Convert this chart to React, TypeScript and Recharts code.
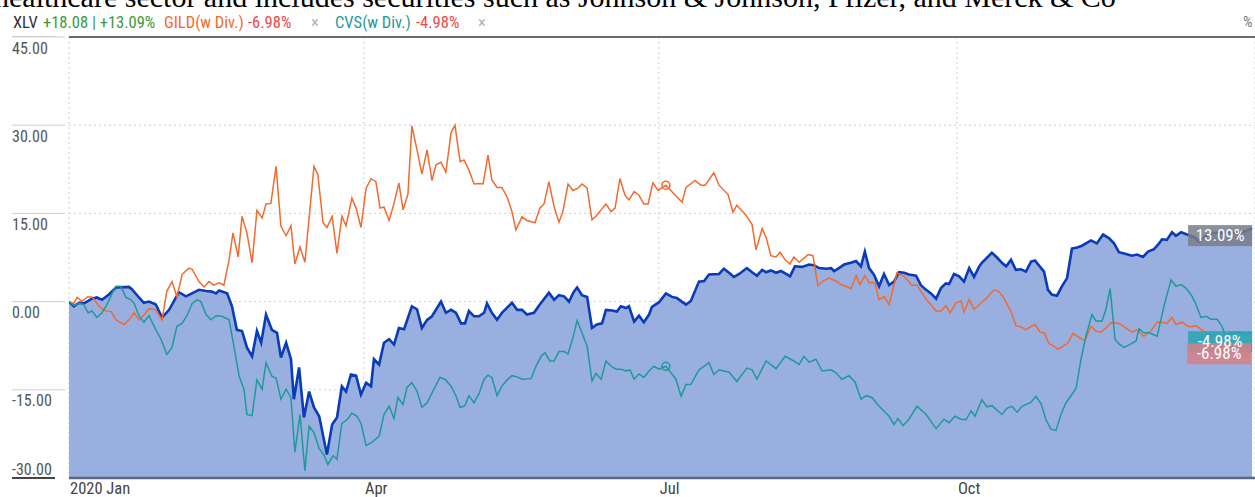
import { ComposedChart, Area, Line, XAxis, YAxis, CartesianGrid, ReferenceDot, ReferenceLine } from 'recharts';

const NARROW = "'Liberation Sans Narrow', 'Roboto Condensed', 'Arial Narrow', Roboto, sans-serif";

// x = day of 2020 (0 = Jan 1), y = % change
const monthTicks = [0, 91, 182, 274];
const monthLabels = ['2020 Jan', 'Apr', 'Jul', 'Oct'];
const pctTicks = [-30, -15, 0, 15, 30, 45];

const xlvPoints: [number, number][] = [
  [0,0],[1.5,-0.8],[3.1,-0.2],[4.6,-0.3],[7.1,0.5],[8.6,0.7],[10.2,0.3],[12.3,1.2],[14.5,2.4],[18.5,2.5],[19.4,2.1],[21.6,0.7],[23.1,-0.2],[24.7,0],[26.8,-0.5],[28.7,-2.7],[30.9,-1.4],[33.9,1.6],[36.1,0.9],[40.1,2.0],[42.3,1.8],[44.1,1.7],[45.4,1.4],[46.3,1.9],[48.8,1.4],[50.3,-0.8],[51.8,-4.8],[53.4,-5.0],[54.9,-7.8],[56.5,-9.3],[58.0,-5.0],[59.3,-7.0],[60.8,-2.2],[62.6,-4.8],[64.2,-5.3],[65.4,-9.5],[67.0,-7.0],[68.5,-9.8],[69.4,-16.6],[71.0,-11.2],[72.5,-19.7],[74.1,-15.3],[75.6,-18.0],[77.2,-19.5],[79.6,-26.0],[81.2,-20.9],[82.7,-19.7],[84.2,-14.4],[85.5,-15.3],[87.0,-12.4],[88.6,-12.6],[90.1,-15.8],[91.7,-13.8],[93.2,-14.4],[94.1,-9.8],[95.7,-10.7],[97.2,-7.0],[98.8,-6.4],[100.3,-7.3],[101.8,-4.5],[103.4,-4.7],[105.8,-0.8],[107.4,-1.3],[108.9,-4.5],[110.5,-3.1],[112.0,-2.5],[114.8,0],[116.3,-1.9],[117.9,-1.4],[119.4,-1.9],[121.0,-3.7],[122.2,-3.7],[123.4,-1.6],[125.0,-2.5],[126.5,-2.5],[128.1,-1.9],[129.0,-0.3],[130.5,-1.9],[132.1,-3.1],[133.6,-1.9],[136.7,-0.2],[138.3,-1.4],[139.8,-1.4],[141.3,-2.2],[143.5,-1.9],[145.0,-0.7],[148.1,1.5],[149.7,0.3],[151.2,1.1],[152.8,0.9],[154.3,0],[155.8,1.7],[156.8,2.4],[158.3,1.1],[159.9,0.8],[161.4,-4.5],[162.9,-3.9],[164.5,-3.7],[165.7,-1.4],[167.6,-1.5],[169.1,-1.7],[170.3,-0.8],[171.9,-1.1],[172.8,-0.8],[174.4,-3.4],[175.9,-2.4],[177.4,-3.5],[179.0,-2.2],[179.9,-0.9],[182.1,-0.1],[184.2,1.4],[186.1,0.8],[187.6,0.6],[190.4,-0.5],[191.9,0.1],[194.4,3.4],[196.0,3.5],[197.5,4.6],[200.6,4.7],[202.1,5.6],[203.7,4.9],[205.2,4.2],[206.8,4.7],[209.2,5.7],[210.8,5.0],[212.3,4.4],[213.9,5.4],[215.1,5.0],[216.6,5.3],[218.2,4.9],[219.7,5.2],[221.3,4.7],[222.5,4.3],[224.0,6.0],[226.2,5.9],[228.4,6.3],[229.9,6.2],[231.5,5.7],[233.6,5.6],[235.2,5.7],[236.1,5.2],[237.6,5.7],[239.2,6.3],[241.3,6.6],[242.9,6.9],[244.4,6.0],[245.6,8.5],[246.9,5.7],[248.4,4.6],[250.0,2.6],[251.5,4.7],[253.1,2.8],[254.6,3.4],[256.1,5.0],[257.7,4.9],[259.2,4.6],[261.4,4.4],[262.9,2.8],[264.5,2.0],[266.0,1.4],[267.6,0.5],[269.1,2.3],[270.6,3.1],[271.6,3.0],[273.1,4.7],[274.7,4.3],[276.2,3.4],[277.8,5.7],[279.3,4.2],[280.9,6.0],[281.7,6.6],[284.8,8.3],[286.4,7.5],[287.9,6.6],[289.2,6.0],[290.7,7.1],[292.2,5.4],[293.8,5.5],[295.3,5.1],[296.9,6.8],[298.1,7.0],[300.0,5.7],[300.9,5.1],[302.1,2.0],[303.3,1.2],[304.9,1.0],[306.4,2.6],[308.0,4.0],[309.5,9.0],[311.1,9.2],[312.6,9.5],[315.4,10.4],[317.2,9.9],[319.1,11.4],[320.9,10.8],[322.5,9.9],[324.0,8.4],[326.2,8.1],[328.0,7.8],[329.6,8.0],[331.4,7.6],[333.0,8.5],[334.8,8.9],[336.4,9.9],[337.3,10.6],[338.8,10.5],[340.4,11.8],[341.6,11.2],[343.2,11.8],[345.0,11.4],[347.2,11.0],[348.7,10.3],[350.9,11.2],[352.7,11.7],[355.8,11.7],[358.9,11.7],[361.1,11.7],[363.2,12.0],[365.1,12.5],
];

const gildPoints: [number, number][] = [
  [0,0],[1.5,-0.3],[2.5,0.7],[4.0,0],[5.6,0.8],[7.1,0.8],[9.3,-0.8],[10.8,-1.5],[13.0,-1.7],[14.5,-3.1],[17.0,-3.9],[18.5,-3.1],[20.1,-1.9],[21.6,-3.1],[23.8,-1.9],[24.7,-1.2],[26.8,-1.4],[28.7,-3.1],[30.2,1.8],[31.8,3.4],[33.3,0.8],[34.9,4.6],[37.0,5.7],[38.0,5.5],[40.1,3.4],[41.7,2.5],[43.2,3.4],[44.7,2.8],[46.3,3.2],[47.8,2.8],[49.4,7.1],[50.6,11.7],[52.2,7.6],[53.4,14.5],[54.9,11.7],[56.5,6.6],[58.0,15.5],[59.6,14.2],[60.8,16.6],[62.3,16.7],[63.9,23.0],[65.4,12.8],[67.0,11.2],[68.5,12.9],[69.7,6.4],[71.3,9.3],[72.8,6.7],[75.6,23.0],[76.8,21.6],[78.4,13.4],[79.6,12.6],[81.2,14.5],[82.7,8.2],[84.2,14.5],[85.5,12.9],[87.3,17.6],[88.6,15.9],[90.1,12.6],[91.7,19.3],[93.2,20.9],[94.7,20.4],[96.0,15.9],[97.2,16.1],[98.8,13.8],[100.3,16.7],[101.8,20.2],[103.1,15.6],[104.6,18.3],[105.8,29.9],[107.4,25.8],[108.9,21.7],[110.5,25.8],[112.0,20.6],[113.3,23.3],[114.8,23.7],[116.3,22.0],[117.9,28.7],[119.1,30.0],[120.7,23.8],[121.9,24.1],[123.4,22.4],[125.0,20.0],[126.5,20.1],[127.8,20.0],[129.3,24.9],[130.5,20.7],[132.1,19.4],[133.6,19.4],[135.2,17.8],[136.7,15.3],[137.9,12.2],[139.8,14.4],[141.3,13.8],[143.8,13.4],[145.3,15.9],[146.6,16.6],[148.1,20.4],[149.7,16.1],[151.2,13.5],[152.4,15.3],[154.0,20.0],[155.5,18.9],[157.1,19.3],[158.3,20.0],[159.9,19.3],[161.4,13.9],[162.6,14.5],[164.2,15.6],[165.7,16.6],[167.3,15.3],[168.5,15.9],[170.0,20.9],[171.6,18.1],[172.8,17.3],[174.4,18.7],[175.9,18.1],[177.4,16.6],[178.7,16.6],[180.2,20.2],[181.8,18.9],[184.2,19.8],[186.1,18.7],[189.2,16.9],[190.4,19.4],[193.2,20.6],[195.0,19.8],[196.3,19.8],[199.0,21.9],[200.6,19.8],[203.4,18.2],[204.9,15.2],[206.1,16.4],[208.9,14.7],[210.8,13.1],[212.0,8.8],[213.9,12.4],[215.1,11.0],[216.6,7.8],[218.2,7.6],[219.4,8.4],[221.0,7.1],[222.5,6.4],[223.7,7.6],[225.3,6.7],[228.1,8.0],[229.6,7.8],[231.1,2.7],[232.7,3.5],[234.5,4.0],[236.7,3.5],[238.2,2.9],[239.8,2.6],[241.3,2.2],[242.9,4.4],[244.1,2.9],[245.6,4.4],[246.9,3.2],[248.7,3.2],[250.0,0.3],[251.5,0.9],[253.1,-0.5],[255.5,4.9],[257.7,4.3],[260.1,2.8],[261.7,2.8],[264.5,0.4],[267.6,-1.6],[269.1,-1.6],[270.6,-0.7],[271.9,-1.9],[273.7,-0.2],[275.3,0.1],[276.2,-1.8],[277.8,0.4],[279.3,-1.3],[280.9,-0.5],[283.0,0.5],[285.5,2.0],[287.0,1.7],[288.5,0.6],[290.7,-1.7],[292.2,-4.1],[293.8,-4.3],[295.3,-4.8],[296.9,-4.2],[298.1,-3.9],[299.7,-5.2],[300.9,-5.3],[302.4,-7.1],[304.0,-7.6],[305.2,-8.1],[307.1,-7.5],[308.3,-7.0],[309.8,-5.4],[311.4,-6.0],[313.5,-6.7],[315.4,-4.2],[316.9,-5.0],[318.5,-5.2],[320.0,-4.5],[321.6,-3.6],[324.0,-3.7],[326.2,-4.5],[328.0,-5.2],[329.6,-4.8],[331.7,-5.9],[333.9,-5.0],[335.8,-3.5],[337.3,-3.5],[338.8,-3.7],[340.4,-2.7],[341.6,-3.9],[343.5,-3.5],[345.6,-4.3],[347.8,-4.1],[349.6,-4.8],[351.8,-5.6],[354.0,-5.9],[355.8,-6.5],[358.6,-7.6],[361.1,-9.0],[363.2,-9.3],[364.8,-7.6],
];

const cvsPoints: [number, number][] = [
  [0,0],[1.5,-0.7],[3.1,-0.3],[4.6,-0.5],[5.9,-1.9],[7.1,-1.6],[8.6,-2.7],[10.2,-1.9],[11.7,-0.5],[13.3,1.4],[14.5,2.6],[16.0,2.6],[17.6,0.7],[19.1,0.3],[20.1,-0.3],[21.6,-2.4],[23.1,-3.5],[24.7,-2.4],[26.8,-4.8],[28.4,-6.4],[30.2,-9.0],[31.8,-7.8],[33.3,-4.2],[34.9,-3.7],[36.4,-2.4],[38.0,-0.3],[39.5,0.3],[40.7,0],[42.3,-2.2],[43.8,-3.1],[45.4,-2.4],[47.2,-2.5],[49.4,-3.1],[50.9,-7.6],[52.5,-12.7],[54.0,-14.9],[54.9,-19.2],[56.5,-19.4],[58.0,-13.3],[59.6,-14.9],[60.8,-10.4],[62.6,-12.7],[63.9,-13.0],[65.4,-16.6],[67.0,-14.9],[68.5,-16.3],[69.7,-25.6],[71.3,-19.2],[72.8,-28.8],[74.1,-21.2],[75.6,-22.3],[77.2,-25.0],[78.7,-26.1],[79.9,-27.7],[81.5,-26.2],[82.7,-26.8],[84.2,-20.7],[85.8,-20.1],[87.3,-19.0],[88.9,-19.5],[90.1,-20.7],[91.7,-24.5],[93.5,-23.9],[95.7,-22.9],[97.2,-19.2],[98.8,-17.8],[100.3,-19.9],[101.5,-16.3],[103.1,-17.5],[104.3,-14.6],[105.8,-13.8],[107.4,-15.2],[108.9,-18.0],[110.5,-17.2],[112.6,-14.9],[114.5,-12.9],[116.0,-13.2],[117.9,-14.4],[119.4,-16.0],[120.7,-18.0],[122.2,-17.7],[123.4,-16.0],[125.0,-17.2],[126.5,-15.7],[128.1,-13.2],[129.3,-12.5],[130.5,-12.9],[132.1,-16.0],[133.6,-14.4],[135.2,-13.3],[136.7,-12.6],[138.3,-12.8],[139.8,-13.2],[142.6,-13.1],[144.1,-11.0],[145.7,-9.3],[146.9,-8.7],[148.4,-10.1],[149.7,-10.1],[151.2,-8.5],[152.8,-8.5],[154.0,-8.9],[155.5,-6.2],[156.8,-3.2],[158.3,-5.3],[159.9,-7.6],[161.4,-13.5],[162.6,-12.2],[164.2,-13.2],[165.7,-10.1],[167.3,-11.0],[168.8,-11.5],[170.3,-11.5],[171.9,-11.8],[173.1,-11.6],[174.4,-13.2],[175.9,-12.3],[177.4,-12.9],[179.0,-11.8],[180.5,-11.0],[182.1,-11.5],[184.2,-11.0],[187.3,-13.2],[188.9,-16.1],[190.4,-14.1],[191.9,-14.1],[194.4,-11.6],[197.5,-10.4],[199.0,-12.4],[200.6,-11.6],[203.7,-12.0],[206.1,-13.6],[209.2,-11.3],[210.8,-11.6],[212.3,-13.2],[215.1,-10.1],[218.2,-11.4],[221.0,-9.3],[223.7,-10.1],[225.3,-10.7],[226.8,-9.3],[228.4,-10.3],[230.5,-9.8],[232.4,-11.8],[235.2,-11.6],[236.7,-12.1],[238.5,-13.2],[240.7,-12.6],[242.6,-13.7],[244.4,-16.6],[246.0,-16.0],[247.8,-16.3],[250.0,-17.8],[253.1,-19.5],[254.6,-20.9],[255.8,-19.9],[257.4,-21.1],[259.2,-20.0],[261.7,-17.8],[264.5,-19.2],[267.6,-21.6],[270.0,-20.0],[271.6,-20.6],[273.4,-19.5],[275.3,-20.0],[276.8,-20.1],[278.4,-18.6],[279.6,-19.5],[281.7,-16.7],[283.3,-17.9],[284.8,-17.7],[287.9,-19.2],[289.5,-18.1],[291.0,-17.8],[292.6,-18.8],[294.1,-17.8],[296.9,-17.1],[298.4,-16.1],[300.0,-17.4],[301.5,-20.1],[303.0,-21.7],[304.6,-21.9],[306.1,-19.2],[307.7,-17.2],[309.5,-15.8],[310.8,-14.7],[312.3,-9.8],[313.8,-5.9],[315.7,-2.2],[316.9,-3.3],[318.8,-3.3],[320.0,-1.3],[321.3,2.2],[322.8,-6.4],[324.0,-7.2],[325.6,-7.8],[327.7,-7.2],[329.3,-6.7],[330.2,-4.6],[331.7,-5.3],[333.3,-5.3],[335.8,-5.9],[337.9,-0.8],[340.1,3.7],[341.6,2.6],[343.2,2.9],[344.7,2.3],[346.6,0.9],[347.8,-0.5],[349.3,-2.7],[350.9,-2.5],[352.4,-3.0],[354.3,-3.0],[355.8,-4.2],[357.0,-5.9],[358.6,-5.3],[361.1,-5.2],[363.2,-5.6],[365.1,-5.2],
];

const markerDay = 184.2;
const legendItems = [
  { text: 'XLV', color: '#333333', left: 13 },
  { text: '+18.08 | +13.09%', color: '#3b9a3b', left: 43 },
  { text: 'GILD(w Div.)', color: '#f26a2e', left: 164 },
  { text: '-6.98%', color: '#f0474a', left: 248 },
  { text: '\u00d7', color: '#b0b0b0', left: 311 },
  { text: 'CVS(w Div.)', color: '#1f9a9a', left: 335 },
  { text: '-4.98%', color: '#f0474a', left: 416 },
  { text: '\u00d7', color: '#b0b0b0', left: 478 },
];

const rows = (pts: [number, number][]) => pts.map(([day, pct]) => ({ day, pct }));
const xlvData = rows(xlvPoints);
const gildData = rows(gildPoints);
const cvsData = rows(cvsPoints);
const last = (pts: [number, number][]) => pts[pts.length - 1];

function YTick({ y, payload }: any) {
  const bottom = payload.value === -30;
  return (
    <g>
      <line x1={12} x2={bottom ? 55 : 65} y1={y} y2={y} stroke={bottom ? '#444' : '#cfcfcf'} strokeWidth={bottom ? 2 : 1} />
      <text x={12} y={bottom ? y - 3 : y + 16.5} fill="#555" fontSize={16} fontFamily={NARROW}>
        {payload.value.toFixed(2)}
      </text>
    </g>
  );
}

function XTick({ x, payload, index }: any) {
  return (
    <text x={x + 1} y={494} fill="#444" fontSize={16.5} fontFamily={NARROW}>
      {monthLabels[index] ?? payload.value}
    </text>
  );
}

function tag(text: string, fill: string, box: boolean, label: boolean, dy: number) {
  return (p: any) => {
    const right = p.cx;
    const top = p.cy + dy;
    return (
      <g>
        {box && <rect x={right - 64} y={top} width={64} height={21} fill={fill} />}
        {label && (
          <text x={right - 32} y={top + 16} textAnchor="middle" fill="#fff" fontSize={17} fontFamily={NARROW}>
            {text}
          </text>
        )}
      </g>
    );
  };
}

export default function App() {
  const [xd, xv] = last(xlvPoints);
  const [gd, gv] = last(gildPoints);
  const [cd, cv] = last(cvsPoints);
  const gMark = gildPoints.find((p) => p[0] === markerDay)!;
  const cMark = cvsPoints.find((p) => p[0] === markerDay)!;
  return (
    <div style={{ position: 'relative', width: 1255, height: 497, overflow: 'hidden', background: '#fff' }}>
      <style>{'body{margin:0}'}</style>
      <div
        style={{
          position: 'absolute', top: -18, left: -6, whiteSpace: 'nowrap',
          fontFamily: "'Liberation Serif', 'Times New Roman', serif", fontSize: 30, lineHeight: '30px', color: '#000',
        }}
      >
        healthcare sector and includes securities such as Johnson &amp; Johnson, Pfizer, and Merck &amp; Co
      </div>
      {legendItems.map((it) => (
        <span
          key={it.left}
          style={{ position: 'absolute', left: it.left, top: 13, fontFamily: NARROW, fontSize: 16.5, color: it.color, whiteSpace: 'nowrap' }}
        >
          {it.text}
        </span>
      ))}
      <span style={{ position: 'absolute', left: 1243, top: 13, fontFamily: NARROW, fontSize: 15, color: '#777' }}>%</span>
      <div style={{ position: 'absolute', left: 12, top: 36, width: 43, height: 1, background: '#cfcfcf' }} />
      <ComposedChart width={1255} height={497} margin={{ top: 37, right: 0, bottom: 0, left: 0 }}>
        <CartesianGrid stroke="#cfcfcf" strokeDasharray="2 3" />
        <XAxis
          type="number"
          dataKey="day"
          domain={[0, 366]}
          ticks={monthTicks}
          height={19}
          axisLine={false}
          tickLine={false}
          tick={<XTick />}
          allowDataOverflow
        />
        <YAxis
          type="number"
          domain={[-30, 45]}
          ticks={pctTicks}
          width={69}
          axisLine={false}
          tickLine={false}
          tick={<YTick />}
          allowDataOverflow
        />
        <Area
          data={xlvData}
          dataKey="pct"
          type="linear"
          baseValue={-30}
          stroke="#0a3cb8"
          strokeWidth={2.6}
          fill="#98afe0"
          fillOpacity={1}
          dot={false}
          activeDot={false}
          isAnimationActive={false}
        />
        <Line data={gildData} dataKey="pct" type="linear" stroke="#f26a2e" strokeWidth={1.5} dot={false} activeDot={false} isAnimationActive={false} />
        <Line data={cvsData} dataKey="pct" type="linear" stroke="#1f9a9a" strokeWidth={1.5} dot={false} activeDot={false} isAnimationActive={false} />
        <ReferenceLine y={45} stroke="#6b6b6b" strokeWidth={2} />
        <ReferenceLine y={-30} stroke="#5d6780" strokeWidth={2.5} />
        <ReferenceDot x={gMark[0]} y={gMark[1]} r={4} fill="none" stroke="#f26a2e" strokeWidth={1.5} />
        <ReferenceDot x={cMark[0]} y={cMark[1]} r={4} fill="none" stroke="#1f9a9a" strokeWidth={1.5} />
        <ReferenceDot x={xd} y={xv} r={0} shape={tag('13.09%', 'rgba(120,124,136,0.85)', true, true, -3)} />
        <ReferenceDot x={cd} y={cv} r={0} shape={tag('-4.98%', 'rgba(40,165,178,0.85)', true, false, -1)} />
        <ReferenceDot x={gd} y={gv} r={0} shape={tag('-6.98%', 'rgba(214,128,134,0.85)', true, true, -3)} />
        <ReferenceDot x={cd} y={cv} r={0} shape={tag('-4.98%', 'rgba(40,165,178,0.85)', false, true, -1)} />
      </ComposedChart>
    </div>
  );
}
